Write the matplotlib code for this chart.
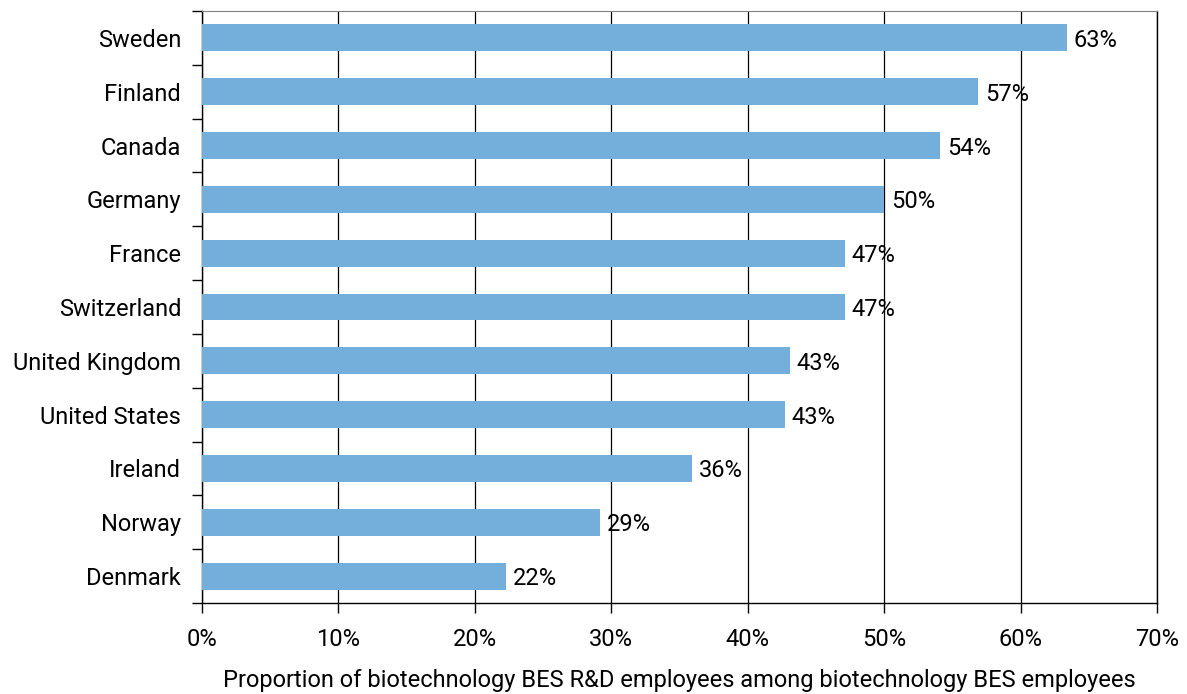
import matplotlib.pyplot as plt
from matplotlib.ticker import FixedLocator

countries = ["Sweden", "Finland", "Canada", "Germany", "France", "Switzerland",
             "United Kingdom", "United States", "Ireland", "Norway", "Denmark"]
shares = [63.4, 56.9, 54.1, 50.0, 47.1, 47.1, 43.1, 42.7, 35.9, 29.2, 22.3]
x_ticks = [0, 10, 20, 30, 40, 50, 60, 70]

plt.rcParams["font.family"] = ["Roboto", "DejaVu Sans"]
FS = 17

fig = plt.figure(figsize=(11.87, 6.94), dpi=100)
ax = fig.add_axes([202 / 1187, 1 - 603 / 694, 955 / 1187, 592 / 694])

pos = list(range(len(countries)))[::-1]
ax.barh(pos, shares, height=0.5, color="#74aeda", zorder=3)
for p, v in zip(pos, shares):
    ax.text(v + 0.5, p, f"{v:.0f}%", va="center_baseline", ha="left", fontsize=FS, zorder=4)

ax.set_xlim(0, 70)
ax.set_ylim(-0.5, len(countries) - 0.5)
ax.set_xticks(x_ticks)
ax.set_xticklabels([f"{t}%" for t in x_ticks], fontsize=FS)
ax.set_yticks(pos)
ax.set_yticklabels(countries, fontsize=FS)
ax.yaxis.set_minor_locator(FixedLocator([p - 0.5 for p in range(len(countries) + 1)]))
ax.tick_params(axis="y", which="major", length=0, pad=15)
ax.tick_params(axis="y", which="minor", length=7, width=1, direction="out")
ax.tick_params(axis="x", length=7, width=1, direction="out", pad=11)
ax.grid(axis="x", color="black", linewidth=0.9, zorder=1)

for side in ["left", "bottom", "right"]:
    ax.spines[side].set_color("black")
    ax.spines[side].set_linewidth(1)
ax.spines["top"].set_color("#808080")

ax.set_xlabel("Proportion of biotechnology BES R&D employees among biotechnology BES employees",
              fontsize=FS, labelpad=13)

fig.savefig("out.png", dpi=100)
